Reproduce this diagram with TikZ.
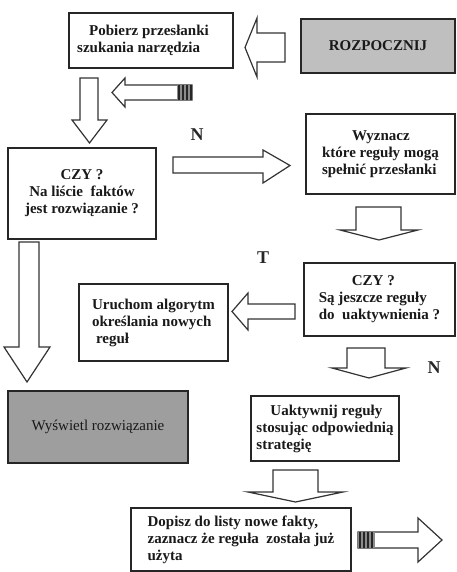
\documentclass[tikz,border=0pt]{standalone}
\usepackage{fontspec}
\setmainfont{Liberation Serif}
\begin{document}
\begin{tikzpicture}[x=1pt,y=-1pt,
    box/.style={draw=black!85, line width=2pt, anchor=north west, align=left, inner sep=0pt,
        font=\fontsize{15}{17}\selectfont\bfseries, text=black!90},
    greybox/.style={box, fill=black!25},
    barrow/.style={draw=black!80, line width=1.2pt, fill=white, line join=miter},
    lbl/.style={font=\fontsize{18}{20}\selectfont\bfseries, text=black!85}]
    \useasboundingbox (0,0) rectangle (456,572);

    % boxes
    \node[box, minimum width=164pt, minimum height=55pt] (pobierz) at (68,12)
        {\hspace*{12pt}Pobierz przesłanki\hspace*{16pt}\\szukania narzędzia};
    \node[greybox, minimum width=154pt, minimum height=54pt] (start) at (300,18) {ROZPOCZNIJ};
    \node[box, align=center, minimum width=148pt, minimum height=91pt] (czy1) at (7,147)
        {CZY ?\\Na liście\ \ faktów\\jest rozwiązanie ?};
    \node[box, minimum width=149pt, minimum height=80pt] (wyznacz) at (305,113)
        {\hspace*{30pt}Wyznacz\\które reguły mogą\\spełnić przesłanki};
    \node[box, minimum width=151pt, minimum height=73pt] (czy2) at (303,262)
        {\hspace*{33pt}CZY ?\\Są jeszcze reguły\\do\ \ uaktywnienia ?};
    \node[box, minimum width=149pt, minimum height=77pt] (uruchom) at (78,283)
        {Uruchom algorytm\\określania nowych\\\hspace*{4pt}reguł};
    \node[greybox, fill=black!38, font=\fontsize{15}{17}\selectfont, minimum width=180pt, minimum height=72pt] (wyswietl) at (7,390)
        {\raisebox{-5pt}{Wyświetl rozwiązanie}};
    \node[box, minimum width=148pt, minimum height=65pt] (uaktywnij) at (250,395)
        {\hspace*{14pt}Uaktywnij reguły\\stosując odpowiednią\\strategię};
    \node[box, minimum width=220pt, minimum height=63pt] (dopisz) at (130,507)
        {Dopisz do listy nowe fakty,\\zaznacz że reguła\ \ została już\\użyta};

    % labels
    \node[lbl] (lblN1) at (197,135) {N};
    \node[lbl] (lblT) at (263,258) {T};
    \node[lbl] (lblN2) at (434,368) {N};

    % block arrows
    \draw[barrow] (285,33) -- (257,33) -- (257,18) -- (245,47.5) -- (257,77) -- (257,62) -- (285,62) -- cycle;
    \draw[barrow] (80,78) -- (98,78) -- (98,120) -- (107,120) -- (89.5,143) -- (72,120) -- (80,120) -- cycle;
    \draw[barrow] (192,85) -- (125,85) -- (125,78) -- (112,92.5) -- (125,107) -- (125,100) -- (192,100) -- cycle;
    \fill[black!45] (177,85) rectangle (192,100);
    \foreach \sx in {179,183,187,191}
        \draw[black!85, line width=1.2pt] (\sx,85) -- (\sx,100);
    \draw[barrow] (173,157) -- (263,157) -- (263,150) -- (290,165.5) -- (263,183) -- (263,173) -- (173,173) -- cycle;
    \draw[barrow] (356,207) -- (401,207) -- (401,230) -- (418,230) -- (379,240) -- (340,230) -- (356,230) -- cycle;
    \draw[barrow] (295,304) -- (248,304) -- (248,293) -- (232,311.5) -- (248,330) -- (248,319) -- (295,319) -- cycle;
    \draw[barrow] (19,242) -- (39,242) -- (39,347) -- (50,347) -- (27,382) -- (4,347) -- (19,347) -- cycle;
    \draw[barrow] (347,348) -- (385,348) -- (385,368) -- (406,368) -- (369,378) -- (332,368) -- (347,368) -- cycle;
    \draw[barrow] (273,470) -- (318,470) -- (318,492) -- (343,492) -- (295.5,502) -- (248,492) -- (273,492) -- cycle;
    \draw[barrow] (358,532) -- (418,532) -- (418,518) -- (442,540) -- (418,562) -- (418,548) -- (358,548) -- cycle;
    \fill[black!45] (358,532) rectangle (375,548);
    \foreach \sx in {360,364,368,372}
        \draw[black!85, line width=1.2pt] (\sx,532) -- (\sx,548);
\end{tikzpicture}
\end{document}
